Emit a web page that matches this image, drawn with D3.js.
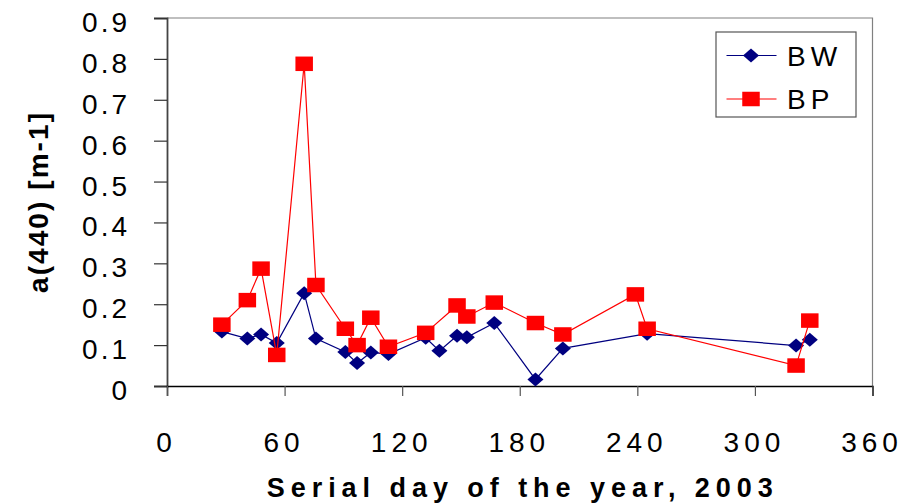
<!DOCTYPE html>
<html>
<head>
<meta charset="utf-8">
<script src="https://cdn.jsdelivr.net/npm/d3@7"></script>
<style>
  html, body { margin: 0; padding: 0; background: #fff; }
  svg { display: block; font-family: Arial, "Liberation Sans", sans-serif; }
</style>
</head>
<body>
<svg id="chart" width="909" height="504"></svg>
<script>
// Absorption coefficient at 440 nm over the year 2003
const bwDays   = [28, 41, 48, 56, 70, 76, 91, 97, 104, 113, 132, 139, 148, 153, 167, 188, 202, 245, 321, 328];
const bwValues = [0.133, 0.116, 0.126, 0.105, 0.227, 0.116, 0.083, 0.056, 0.082, 0.078, 0.118, 0.086, 0.123, 0.119, 0.154, 0.016, 0.092, 0.128, 0.099, 0.113];

const bpDays   = [28, 41, 48, 56, 70, 76, 91, 97, 104, 113, 132, 148, 153, 167, 188, 202, 239, 245, 321, 328];
const bpValues = [0.150, 0.210, 0.287, 0.076, 0.788, 0.247, 0.140, 0.100, 0.167, 0.096, 0.130, 0.197, 0.170, 0.204, 0.154, 0.126, 0.224, 0.140, 0.050, 0.160];

const xTicks = [0, 60, 120, 180, 240, 300, 360];
const yTicks = [0, 0.1, 0.2, 0.3, 0.4, 0.5, 0.6, 0.7, 0.8, 0.9];

const seriesNames = ["BW", "BP"];
const xTitle = "Serial day of the year, 2003";
const yTitle = "a(440) [m-1]";

const svg = d3.select("#chart");
const plot = { left: 167, right: 872.5, top: 18, bottom: 386 };

const x = d3.scaleLinear().domain([0, 360]).range([plot.left, plot.right]);
const y = d3.scaleLinear().domain([0, 0.9]).range([plot.bottom, plot.top]);

// Plot frame: light gray top and right edges
svg.append("path")
  .attr("d", `M${plot.left},${plot.top}H${plot.right}V${plot.bottom}`)
  .attr("fill", "none").attr("stroke", "#808080").attr("stroke-width", 1.2);

// Y axis
const yAxis = svg.append("g")
  .attr("transform", `translate(${plot.left},0)`)
  .call(d3.axisLeft(y).tickValues(yTicks).tickSize(13).tickPadding(24)
    .tickFormat(d => d === 0 ? "0" : d3.format(".1f")(d)));
yAxis.select(".domain").attr("stroke", "#444").attr("stroke-width", 1.8);
yAxis.selectAll(".tick line").attr("stroke", "#333").attr("stroke-width", 1.2);
yAxis.selectAll(".tick text")
  .attr("font-size", 28).attr("fill", "#000")
  .attr("letter-spacing", "3px")
  .attr("dy", "0.48em");

// X axis
const xAxis = svg.append("g")
  .attr("transform", `translate(0,${plot.bottom})`)
  .call(d3.axisBottom(x).tickValues(xTicks).tickSize(10).tickPadding(36)
    .tickFormat(d3.format("d")));
xAxis.select(".domain").attr("stroke", "#000").attr("stroke-width", 1.5);
xAxis.selectAll(".tick line").attr("stroke", "#555").attr("stroke-width", 1.2);
xAxis.selectAll(".tick text")
  .attr("font-size", 28).attr("fill", "#000")
  .attr("letter-spacing", "5px")
  .attr("dx", "-1px")
  .attr("transform", "scale(1,1)");

// Axis titles
svg.append("text")
  .attr("x", (plot.left + plot.right) / 2)
  .attr("y", 497)
  .attr("text-anchor", "middle")
  .attr("font-size", 27).attr("font-weight", "bold")
  .attr("textLength", 506).attr("lengthAdjust", "spacing")
  .text(xTitle);

svg.append("text")
  .attr("transform", `translate(48,${(plot.top + plot.bottom) / 2 + 1}) rotate(-90)`)
  .attr("text-anchor", "middle")
  .attr("font-size", 28).attr("font-weight", "bold")
  .attr("textLength", 180).attr("lengthAdjust", "spacing")
  .text(yTitle);

// Series
const bw = bwDays.map((d, i) => ({ day: d, value: bwValues[i] }));
const bp = bpDays.map((d, i) => ({ day: d, value: bpValues[i] }));

const line = d3.line().x(d => x(d.day)).y(d => y(d.value));
const diamond = "M0,-7L8,0L0,7L-8,0Z";
const sqW = 17.5, sqH = 14.5;

svg.append("path").datum(bw)
  .attr("d", line).attr("fill", "none")
  .attr("stroke", "#000080").attr("stroke-width", 1.2);
svg.append("g").selectAll("path").data(bw).join("path")
  .attr("d", diamond)
  .attr("transform", d => `translate(${x(d.day)},${y(d.value)})`)
  .attr("fill", "#000080");

svg.append("path").datum(bp)
  .attr("d", line).attr("fill", "none")
  .attr("stroke", "#ff0000").attr("stroke-width", 1.2);
svg.append("g").selectAll("rect").data(bp).join("rect")
  .attr("x", d => x(d.day) - sqW / 2)
  .attr("y", d => y(d.value) - sqH / 2)
  .attr("width", sqW).attr("height", sqH)
  .attr("fill", "#ff0000");

// Legend
const legend = svg.append("g").attr("transform", "translate(716,32)");
legend.append("rect")
  .attr("x", 0).attr("y", 0).attr("width", 140).attr("height", 85)
  .attr("fill", "#fff").attr("stroke", "#555").attr("stroke-width", 1.2);

const rows = [
  { name: seriesNames[0], color: "#000080", cy: 23.5, kind: "diamond" },
  { name: seriesNames[1], color: "#ff0000", cy: 67, kind: "square" }
];
rows.forEach(r => {
  legend.append("line")
    .attr("x1", 10.5).attr("x2", 60.5).attr("y1", r.cy).attr("y2", r.cy)
    .attr("stroke", r.color).attr("stroke-width", 1.2);
  if (r.kind === "diamond") {
    legend.append("path").attr("d", diamond)
      .attr("transform", `translate(35,${r.cy})`).attr("fill", r.color);
  } else {
    legend.append("rect")
      .attr("x", 35 - sqW / 2).attr("y", r.cy - sqH / 2)
      .attr("width", sqW).attr("height", sqH).attr("fill", r.color);
  }
  legend.append("text")
    .attr("x", 71).attr("y", r.cy + 10)
    .attr("font-size", 28).attr("letter-spacing", "5px")
    .text(r.name);
});
</script>
</body>
</html>
